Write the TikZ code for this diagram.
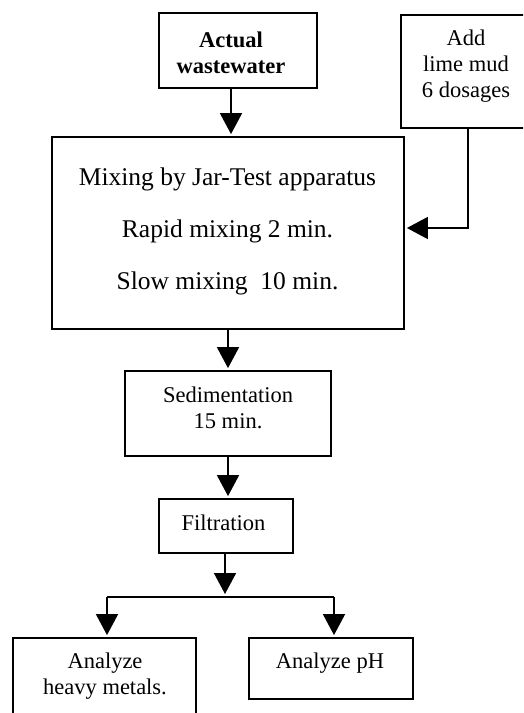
\documentclass[tikz,border=0pt]{standalone}
\usepackage{fontspec}
\setmainfont{Liberation Serif}
\usetikzlibrary{arrows.meta,calc}
\begin{document}
\begin{tikzpicture}[x=1pt,y=-1pt,
  box/.style={draw, line width=1.8pt, rectangle, inner sep=0pt},
  txt/.style={align=center, inner sep=0pt, font=\fontsize{22.5}{26}\selectfont},
  bigtxt/.style={align=center, inner sep=0pt, font=\fontsize{25.5}{52}\selectfont},
  arr/.style={line width=1.7pt, -{Triangle[width=22pt,length=21pt]}, shorten >=2pt},
  ln/.style={line width=1.7pt}]
\clip (0,0) rectangle (523,713);
\fill[white] (0,0) rectangle (523,713);
% boxes
\node[box, minimum width=158pt, minimum height=75pt] (act) at (238,50.5) {};
\node[box, minimum width=134pt, minimum height=113pt] (add) at (468,71.5) {};
\node[box, minimum width=352pt, minimum height=192pt] (mix) at (228,233) {};
\node[box, minimum width=206pt, minimum height=85pt] (sed) at (228,413.5) {};
\node[box, minimum width=134pt, minimum height=54pt] (filt) at (226,526) {};
\node[box, minimum width=183pt, minimum height=92pt] (hm) at (104.5,684) {};
\node[box, minimum width=164pt, minimum height=61pt] (ph) at (331,668.5) {};
% texts
\node[txt, font=\fontsize{22.5}{26}\selectfont\bfseries] (actt) at (231,52.5) {Actual\\wastewater};
\node[txt] (addt) at (466,66) {Add\\lime mud\\6 dosages};
\node[bigtxt] (mixt) at (227.5,231) {Mixing by Jar-Test apparatus\\Rapid mixing 2 min.\\Slow mixing\ \ 10 min.};
\node[txt] (sedt) at (228,408) {Sedimentation\\15 min.};
\node[txt] (filtt) at (223.5,523) {Filtration};
\node[txt] (hmt) at (105,676) {Analyze\\heavy metals.};
\node[txt] (pht) at (330,663) {Analyze pH};
% connectors
\coordinate (a1) at (231,0);
\draw[arr] (act.south -| a1) -- (mix.north -| a1);
\coordinate (turn) at (468,228);
\draw[arr] (add.south -| turn) -- (turn) -- (mix.east |- turn);
\draw[arr] (mix.south) -- (sed.north);
\draw[arr] (sed.south) -- (filt.north -| sed.south);
\coordinate (fe) at (225,594);
\draw[arr, shorten >=0pt] (filt.south -| fe) -- (fe);
\coordinate (bl) at (107,597);
\coordinate (br) at (334,597);
\draw[ln] (bl) -- (br);
\draw[arr] (bl) -- (hm.north -| bl);
\draw[arr] (br) -- (ph.north -| br);
\end{tikzpicture}
\end{document}
